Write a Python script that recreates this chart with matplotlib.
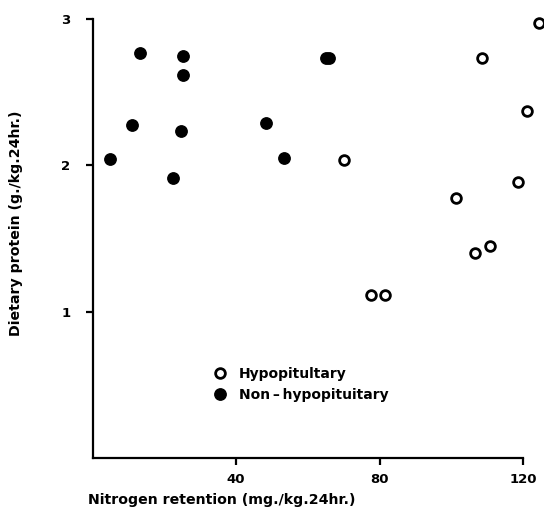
import numpy as np
import matplotlib
matplotlib.use('Agg')
import matplotlib.pyplot as plt

# data
hypo_x = [70.1, 77.6, 81.5, 101.3, 106.5, 108.4, 110.6, 118.5, 121.0, 124.5]
hypo_y = [2.035, 1.114, 1.114, 1.775, 1.399, 2.732, 1.449, 1.884, 2.372, 2.97]

non_x = [13.1, 25.1, 25.2, 11.1, 24.7, 4.8, 22.4, 65.0, 65.8, 48.3, 53.4]
non_y = [2.766, 2.748, 2.62, 2.278, 2.233, 2.044, 1.916, 2.735, 2.735, 2.29, 2.048]

x_ticks = [40, 80, 120]
y_ticks = [1, 2, 3]

plt.rcParams['font.family'] = 'DejaVu Sans'
plt.rcParams['font.weight'] = 'bold'
plt.rcParams['axes.labelweight'] = 'bold'

fig = plt.figure(figsize=(5.44, 5.08), dpi=100)
ax = fig.add_axes([92.5 / 544, 50 / 508, (543.4 - 92.5) / 544, (458 - 19) / 508])

ax.plot(hypo_x, hypo_y, 'o', mfc='white', mec='black', mew=2.0, ms=7,
        clip_on=False, label='Hypopitultary')
ax.plot(non_x, non_y, 'o', color='black', ms=8.2, clip_on=False,
        label='Non\u2009\u2013\u2009hypopituitary')

ax.set_xlim(0, 125.6)
ax.set_ylim(0, 3)
ax.set_xticks(x_ticks)
ax.set_yticks(y_ticks)
ax.set_xticklabels([str(t) for t in x_ticks], fontsize=9.5)
ax.set_yticklabels([str(t) for t in y_ticks], fontsize=9.5)

for s in ['top', 'right']:
    ax.spines[s].set_visible(False)
for s in ['left', 'bottom']:
    ax.spines[s].set_linewidth(1.6)
ax.spines['bottom'].set_bounds(0, 120)
ax.tick_params(width=1.6, length=5)
ax.tick_params(axis='x', pad=6)
ax.tick_params(axis='y', pad=11)

ax.set_xlabel('Nitrogen retention (mg./kg.24hr.)', fontsize=10.2, ha='left')
ax.xaxis.set_label_coords(-0.01, -0.08)
ax.set_ylabel('Dietary protein (g./kg.24hr.)', fontsize=10.2)
ax.yaxis.set_label_coords(-0.155, 0.535)

leg = ax.legend(loc='upper left', bbox_to_anchor=(0.254, 0.224), frameon=False,
                prop={'size': 10, 'weight': 'bold'}, borderpad=0,
                handlelength=0.8, handletextpad=1.0,
                labelspacing=0.55, numpoints=1)

fig.savefig('out.png', dpi=100)
